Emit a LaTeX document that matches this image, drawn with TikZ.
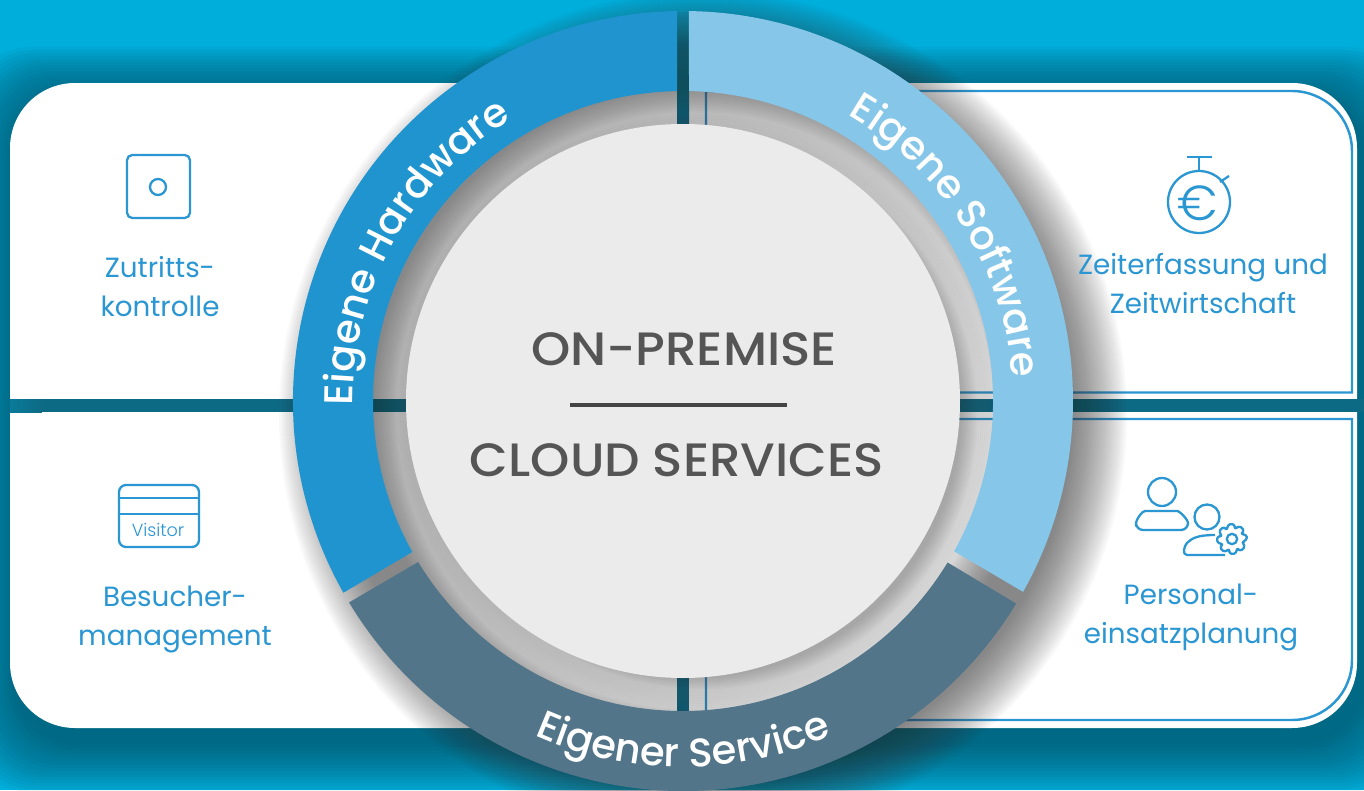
\documentclass[tikz,border=0pt]{standalone}
\usepackage{fontspec}
\setmainfont{Poppins}
\newfontfamily\lightfont{Poppins Light}
\newfontfamily\headfont[FakeStretch=1.07]{Poppins Medium}
\usetikzlibrary{decorations.text}
\definecolor{skybg}{HTML}{00AEDB}
\definecolor{gapteal}{HTML}{0D6A84}
\definecolor{panelshade}{HTML}{0A4A5E}
\definecolor{hwblue}{HTML}{1F94CF}
\definecolor{swblue}{HTML}{86C6E8}
\definecolor{svcslate}{HTML}{527589}
\definecolor{iconblue}{HTML}{2A96D2}
\definecolor{discgray}{HTML}{EBEBEB}
\definecolor{disctext}{HTML}{555555}
\newcommand{\ringfont}{\fontspec{Poppins Medium}\fontsize{11.4}{14}\selectfont\color{white}}
\tikzset{
  iconline/.style={draw=iconblue, line width=0.65pt, line join=round},
  boxline/.style={draw=iconblue, line width=0.7pt},
  caption/.style={text=iconblue, align=center, inner sep=0pt, font=\fontsize{7.9}{11.1}\selectfont},
  headline/.style={text=disctext, inner sep=0pt, font=\headfont\fontsize{13.3}{16}\selectfont},
  ringpart/.style={shift={(6.83,3.89)}}
}
\begin{document}
\begin{tikzpicture}
      \useasboundingbox (0,0) rectangle (13.64,7.9);
      \clip (0,0) rectangle (13.64,7.9);
      \coordinate (mid) at (6.83,3.89);
      \coordinate (ringshade) at (7.03,3.75);
      \coordinate (discshade) at (6.95,3.79);

      \fill[skybg] (0,0) rectangle (13.64,7.9);
      \foreach \e in {0.5,0.47,...,0.0}
        \fill[panelshade, opacity=0.06, rounded corners=0.65cm] (0.16-\e,0.48-\e) rectangle (13.63+\e,6.93+\e);
      \fill[white, rounded corners=0.65cm] (0.10,0.62) rectangle (13.57,7.07);

      \shade[left color=skybg!25!gapteal, right color=gapteal] (0.10,3.78) rectangle (0.42,3.91);
      \fill[gapteal] (0.42,3.78) rectangle (13.64,3.91);
      \shade[top color=skybg!85!gapteal, bottom color=gapteal] (6.77,6.65) rectangle (6.89,7.78);
      \fill[gapteal] (6.77,0.78) rectangle (6.89,1.12);

      \draw[boxline] (7.06,3.975) -- (7.06,6.99) -- (12.92,6.99) arc[start angle=90, end angle=0, radius=0.6] -- (13.52,3.975) -- cycle;
      \draw[boxline] (7.06,3.71) -- (7.06,0.70) -- (12.92,0.70) arc[start angle=-90, end angle=0, radius=0.6] -- (13.52,3.71) -- cycle;

      \foreach \e in {0.34,0.32,...,-0.2}
        \draw[black!80, opacity=0.027, line width=0.8cm+2*\e cm] (ringshade) circle[radius=3.5];
      \foreach \e in {0.2,0.18,...,-0.12}
        \fill[black!80, opacity=0.03] (discshade) circle[radius=2.77+\e];

      \fill[hwblue, ringpart] (209.45:3.9) arc[start angle=209.45, end angle=90.88, radius=3.9] -- (91.11:3.1) arc[start angle=91.11, end angle=209.15, radius=3.1] -- cycle;
      \fill[swblue, ringpart] (89.12:3.9) arc[start angle=89.12, end angle=-29.3, radius=3.9] -- (-29:3.1) arc[start angle=-29, end angle=88.89, radius=3.1] -- cycle;
      \fill[svcslate, ringpart] (211.1:3.9) arc[start angle=211.1, end angle=328.7, radius=3.9] -- (328.6:3.1) arc[start angle=328.6, end angle=211.3, radius=3.1] -- cycle;
      \fill[discgray] (mid) circle[radius=2.77];

      \path[decorate, decoration={text along path, text align=center, text={|\ringfont|Eigene Hardware}}]
        (mid) ++(191:3.30) arc[start angle=191, end angle=111, radius=3.30];
      \path[decorate, decoration={text along path, text align=center, text={|\ringfont|Eigene Software}}]
        (mid) ++(72:3.30) arc[start angle=72, end angle=-8, radius=3.30];
      \path[decorate, decoration={text along path, text align=center, text={|\ringfont|Eigener Service}}]
        (mid) ++(230.5:3.66) arc[start angle=230.5, end angle=309.5, radius=3.66];

      \node[headline] (onprem) at (6.84,4.41) {ON-PREMISE};
      \node[headline] (cloud) at (6.77,3.30) {CLOUD SERVICES};
      \draw[disctext!80!black, line width=0.9pt] (5.70,3.85) -- (7.87,3.85);

      % Zutritt
      \draw[iconline, rounded corners=1.5pt] (1.27,5.72) rectangle (1.90,6.35);
      \draw[iconline] (1.58,6.03) circle[radius=0.08];
      \node[caption] (zutritt) at (1.60,5.03) {Zutritts-\\kontrolle};

      % Visitor
      \draw[iconline, rounded corners=2pt] (1.19,2.43) rectangle (1.99,3.05);
      \draw[iconline] (1.19,2.92) -- (1.99,2.92);
      \draw[iconline] (1.19,2.76) -- (1.99,2.76);
      \node[text=iconblue, inner sep=0pt, font=\lightfont\fontsize{5}{6}\selectfont] (visitor) at (1.58,2.60) {Visitor};
      \node[caption] (besucher) at (1.75,1.71) {Besucher-\\management};

      % Stoppuhr
      \draw[iconline] (11.99,5.88) circle[radius=0.31];
      \draw[iconline] (11.87,6.33) -- (12.12,6.33);
      \draw[iconline] (11.99,6.33) -- (11.99,6.18);
      \draw[iconline] (12.20,6.08) -- (12.29,6.14);
      \node[text=iconblue, inner sep=0pt, font=\lightfont\fontsize{14}{15}\selectfont] (euro) at (11.98,5.87) {€};
      \node[caption] (zeit) at (12.03,5.06) {Zeiterfassung und\\Zeitwirtschaft};

      % Personal
      \draw[iconline] (11.62,2.98) circle[radius=0.14];
      \draw[iconline, rounded corners=2pt] (11.36,2.60) -- (11.88,2.60) .. controls (11.88,2.70) and (11.80,2.79) .. (11.70,2.79) -- (11.52,2.79) .. controls (11.42,2.79) and (11.36,2.70) .. (11.36,2.60) -- cycle;
      \draw[iconline] (12.07,2.73) circle[radius=0.125];
      \draw[iconline] (12.25,2.35) -- (11.87,2.35) .. controls (11.82,2.35) and (11.84,2.44) .. (11.87,2.47) .. controls (11.92,2.52) and (11.98,2.55) .. (12.15,2.55);
      \draw[iconline, rounded corners=0.4pt, shift={(12.32,2.51)}] (0:0.15)
        \foreach \a in {45,90,...,315} {-- (\a-31:0.15) -- (\a-20:0.115) -- (\a-14:0.115) -- (\a-8:0.15)} -- (329:0.15) -- (340:0.115) -- (346:0.115) -- cycle;
      \draw[iconline] (12.32,2.51) circle[radius=0.052];
      \node[caption] (personal) at (11.91,1.73) {Personal-\\einsatzplanung};
\end{tikzpicture}
\end{document}
